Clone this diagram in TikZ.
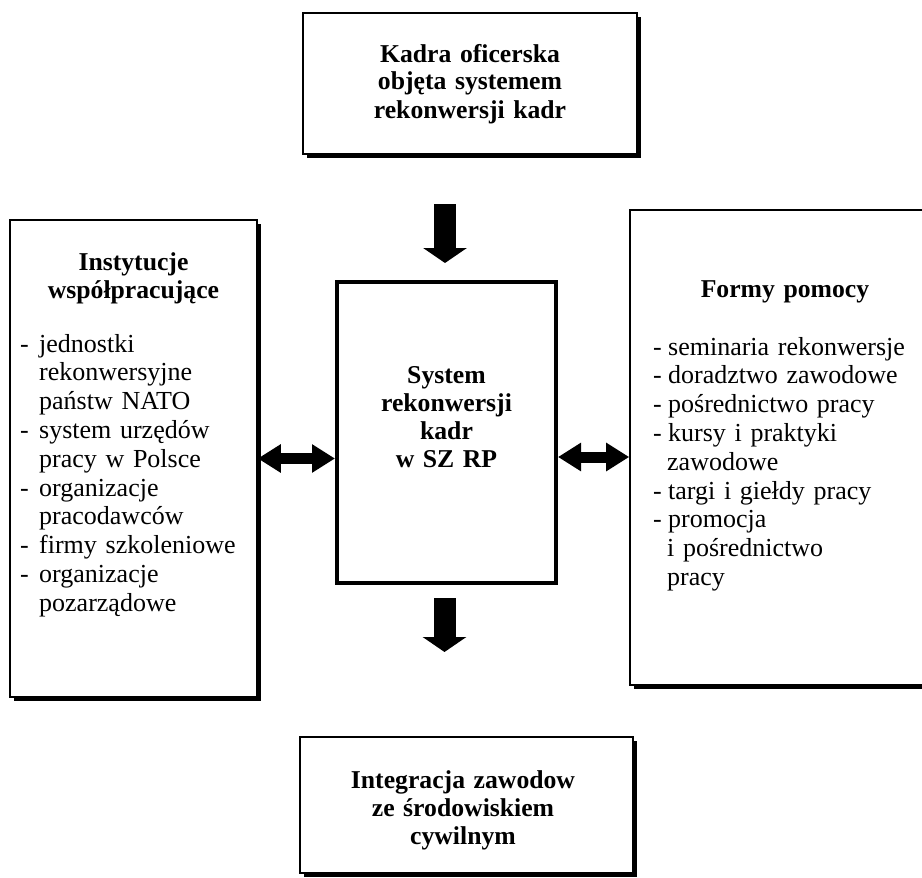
\documentclass[tikz,border=0pt]{standalone}
\usepackage{fontspec}
\setmainfont{Liberation Serif}
\usetikzlibrary{arrows.meta,shadows}
\newcommand{\rgfont}{\fontsize{26}{28.8}\selectfont}
\newcommand{\bdfont}{\fontsize{25.7}{28}\selectfont\bfseries}
\newcommand{\litem}{\makebox[19pt][l]{-}}
\newcommand{\lcont}{\hspace*{19pt}}
\newcommand{\ritem}{\makebox[15pt][l]{-}}
\newcommand{\rcont}{\hspace*{14pt}}
\begin{document}
\begin{tikzpicture}[x=1pt,y=-1pt,
  box/.style={draw=black, line width=1.6pt, fill=white, inner sep=0pt,
    drop shadow={shadow xshift=3.5pt, shadow yshift=-3.5pt, fill=black, opacity=1}},
  mainbox/.style={draw=black, line width=4pt, fill=white, inner sep=0pt},
  title/.style={font=\bdfont, text width=320pt, align=center, inner sep=0pt, anchor=base},
  listtext/.style={font=\rgfont, text width=290pt, align=left, inner sep=0pt, anchor=base west},
  downarrow/.style={draw=black, line width=22pt, -{Triangle[length=15pt,width=43pt]}},
  twoway/.style={draw=black, line width=11pt, {Triangle[length=23pt,width=27pt]}-{Triangle[length=23pt,width=27pt]}}
]
\fill[white] (0,0) rectangle (922,878);
\useasboundingbox (0,0) rectangle (922,878);
\clip (0,0) rectangle (922,878);

% boxes
\node[box, minimum width=334pt, minimum height=141pt] (top) at (470,83.5) {};
\node[box, minimum width=247pt, minimum height=477pt] (left) at (133.5,458.5) {};
\node[box, minimum width=320pt, minimum height=475pt] (right) at (790,447.5) {};
\node[box, minimum width=333pt, minimum height=136pt] (bottom) at (466.5,805) {};
\node[mainbox, minimum width=219pt, minimum height=301pt] (center) at (446.5,432.5) {};

% texts
\node[title] (toptext) at (470,62) {Kadra oficerska\\objęta systemem\\rekonwersji kadr};
\node[title] (centertext) at (446.5,383) {System\\rekonwersji\\kadr\\w SZ RP};
\node[title] (bottomtext) at (463,788) {Integracja zawodow\\ze środowiskiem\\cywilnym};
\node[title] (lefttitle) at (133.5,270) {Instytucje\\współpracujące};
\node[title] (righttitle) at (785,297) {Formy pomocy};

\node[listtext] (leftlist) at (20,352) {\litem jednostki\\
\lcont rekonwersyjne\\
\lcont państw NATO\\
\litem system urzędów\\
\lcont pracy w Polsce\\
\litem organizacje\\
\lcont pracodawców\\
\litem firmy szkoleniowe\\
\litem organizacje\\
\lcont pozarządowe};

\node[listtext] (rightlist) at (653,355) {\ritem seminaria rekonwersje\\
\ritem doradztwo zawodowe\\
\ritem pośrednictwo pracy\\
\ritem kursy i praktyki\\
\rcont zawodowe\\
\ritem targi i giełdy pracy\\
\ritem promocja\\
\rcont i pośrednictwo\\
\rcont pracy};

% arrows
\coordinate (ta) at (445,204);
\coordinate (tb) at (445,263);
\coordinate (ba) at (444.5,598);
\coordinate (bb) at (444.5,652);
\coordinate (ry) at (0,457);
\draw[downarrow] (ta) -- (tb);
\draw[downarrow] (ba) -- (bb);
\draw[twoway] (left.east) -- (center.west |- left.east);
\draw[twoway] (center.east |- ry) -- (right.west |- ry);
\end{tikzpicture}
\end{document}
